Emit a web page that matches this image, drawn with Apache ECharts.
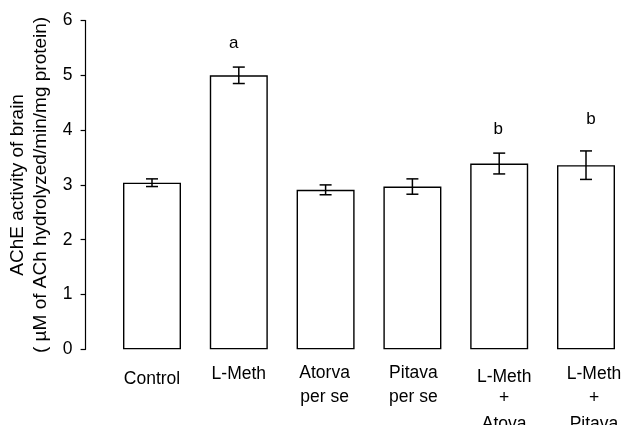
<!DOCTYPE html>
<html>
<head>
<meta charset="utf-8">
<title>AChE activity of brain</title>
<script src="https://cdn.jsdelivr.net/npm/echarts@6/dist/echarts.min.js"></script>
<style>
  html, body { margin: 0; padding: 0; background: #fff; }
  #chart { width: 621px; height: 425px; }
</style>
</head>
<body>
<div id="chart"></div>
<script>
// Group names (multi-line names are split on \n)
const categories = ['Control', 'L-Meth', 'Atorva\nper se', 'Pitava\nper se', 'L-Meth\n+\nAtova', 'L-Meth\n+\nPitava'];
// Mean AChE activity and its error
const means = [3.04, 5.00, 2.91, 2.97, 3.39, 3.36];
const errors = [0.07, 0.15, 0.09, 0.14, 0.19, 0.26];
// Significance letters above each group
const letters = ['', 'a', '', '', 'b', 'b'];
// Value-axis ticks
const yTicks = [0, 1, 2, 3, 4, 5, 6];

const FONT = '"Liberation Sans", Arial, Helvetica, sans-serif';
const INK = '#000';

// Small per-label nudges for the category names (lh = line spacing)
const labelNudge = [
  { dx: 0, dy: 15, lh: 24 }, { dx: 0, dy: 5, lh: 24 }, { dx: -1, dy: 2, lh: 25 },
  { dx: 1, dy: 2, lh: 25 }, { dx: 5, dy: 9, lh: 26 }, { dx: 8, dy: 4, lh: 26 }
];
// Nudges for the significance letters
const letterNudge = { 1: { dx: -5, dy: 0 }, 4: { dx: -1, dy: 0 }, 5: { dx: 5, dy: -8 } };

const rich = {};
labelNudge.forEach((n, i) => {
  const right = n.dx < 0 ? -2 * n.dx : 0;
  const left = n.dx > 0 ? 2 * n.dx : 0;
  const base = { fontSize: 17.5, fontFamily: FONT, color: INK, lineHeight: n.lh };
  rich['f' + i] = Object.assign({}, base, { padding: [n.dy, right, 0, left] });
  rich['r' + i] = Object.assign({}, base, { padding: [0, right, 0, left] });
});

const chart = echarts.init(document.getElementById('chart'), null, { renderer: 'canvas' });

const option = {
  animation: false,
  backgroundColor: '#fff',
  textStyle: { fontFamily: FONT, color: INK },
  // plot area runs a little past the right edge of the canvas
  grid: {
    left: 108.6, width: 520.8, top: 20.5, bottom: 75.7,
    containLabel: false,
    outerBoundsMode: 'none'
  },
  xAxis: {
    type: 'category',
    data: categories,
    axisLine: { show: false },
    axisTick: { show: false },
    axisLabel: {
      interval: 0,
      margin: 10,
      verticalAlign: 'top',
      formatter: (value, index) => {
        const lines = value.split('\n');
        return lines.map((l, k) => '{' + (k === 0 ? 'f' : 'r') + index + '|' + l + '}').join('\n');
      },
      rich: rich
    }
  },
  yAxis: {
    type: 'value',
    min: yTicks[0],
    max: yTicks[yTicks.length - 1],
    interval: 1,
    offset: 23,
    name: 'AChE activity of brain\n( µM of ACh hydrolyzed/min/mg protein)',
    nameLocation: 'middle',
    nameRotate: 90,
    nameGap: 32,
    nameTextStyle: { fontSize: 19, fontFamily: FONT, color: INK, lineHeight: 23, align: 'center' },
    axisLine: { show: true, lineStyle: { color: INK, width: 1.2 } },
    axisTick: { show: true, length: 5, lineStyle: { color: INK, width: 1.2 } },
    axisLabel: { fontSize: 17.5, fontFamily: FONT, color: INK, margin: 13 },
    splitLine: { show: false }
  },
  series: [
    {
      type: 'bar',
      data: means,
      barWidth: 58,
      itemStyle: { color: '#fff', borderColor: INK, borderWidth: 1.4 },
      z: 2
    },
    {
      type: 'custom',
      z: 5,
      data: means.map((m, i) => [i, m, errors[i]]),
      renderItem: (params, api) => {
        const i = api.value(0);
        const m = api.value(1);
        const e = api.value(2);
        const top = api.coord([i, m + e]);
        const bot = api.coord([i, m - e]);
        const cap = 6;
        const ls = { stroke: INK, lineWidth: 1.5 };
        const children = [
          { type: 'line', shape: { x1: top[0], y1: top[1], x2: bot[0], y2: bot[1] }, style: ls },
          { type: 'line', shape: { x1: top[0] - cap, y1: top[1], x2: top[0] + cap, y2: top[1] }, style: ls },
          { type: 'line', shape: { x1: bot[0] - cap, y1: bot[1], x2: bot[0] + cap, y2: bot[1] }, style: ls }
        ];
        const idx = params.dataIndex;
        if (letters[idx]) {
          const n = letterNudge[idx] || { dx: 0, dy: 0 };
          children.push({
            type: 'text',
            style: {
              text: letters[idx],
              x: top[0] + n.dx,
              y: top[1] - 24 + n.dy,
              textAlign: 'center',
              textVerticalAlign: 'middle',
              fontSize: 17,
              fontFamily: FONT,
              fill: INK
            }
          });
        }
        return { type: 'group', children: children };
      }
    }
  ]
};

chart.setOption(option);
</script>
</body>
</html>
